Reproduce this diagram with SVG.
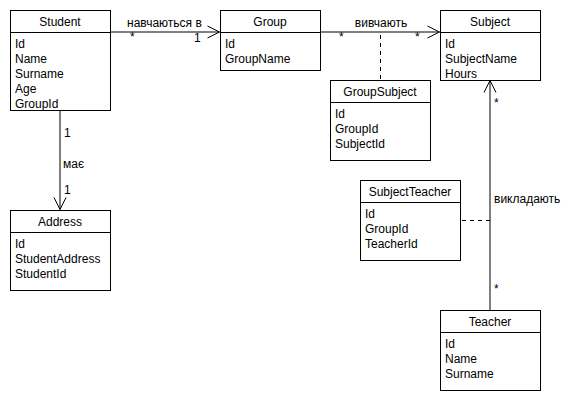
<svg xmlns="http://www.w3.org/2000/svg" width="580" height="400" viewBox="0 0 580 400">
<style>
.box{fill:#fff;stroke:#000;stroke-width:1}
.sep{stroke:#000;stroke-width:1}
text{font-family:"Liberation Sans",Arial,Helvetica,sans-serif;font-size:12px;fill:#000}
.t{text-anchor:middle}
.ln{stroke:#000;stroke-width:1;fill:none}
.dash{stroke:#000;stroke-width:1;fill:none;stroke-dasharray:4 4}
</style>
<defs>
<marker id="open" viewBox="0 0 14 14" refX="13" refY="7" markerWidth="14" markerHeight="14" markerUnits="userSpaceOnUse" orient="auto">
<path d="M1,1 L13,7 L1,13" fill="none" stroke="#000" stroke-width="1"/>
</marker>
</defs>
<rect width="580" height="400" fill="#fff"/>
<g id="connectors">
<line class="ln" x1="110" y1="32" x2="219.5" y2="32" marker-end="url(#open)"/>
<text x="127" y="27">навчаються в</text>
<text x="130" y="41">*</text>
<text x="194" y="42">1</text>
<line class="ln" x1="320" y1="32" x2="439.5" y2="32" marker-end="url(#open)"/>
<text x="381" y="27" class="t">вивчають</text>
<text x="339" y="41">*</text>
<text x="415" y="41">*</text>
<line class="dash" x1="380.5" y1="35" x2="380.5" y2="80"/>
<line class="ln" x1="60" y1="110" x2="60" y2="209.5" marker-end="url(#open)"/>
<text x="64" y="137">1</text>
<text x="63" y="168">має</text>
<text x="64" y="194">1</text>
<line class="ln" x1="490" y1="310" x2="490" y2="80.5" marker-end="url(#open)"/>
<text x="494" y="107">*</text>
<text x="494" y="293">*</text>
<text x="494" y="203">викладають</text>
<line class="dash" x1="462" y1="220.5" x2="490" y2="220.5"/>
</g>
<g id="Student">
<rect class="box" x="10.5" y="10.5" width="100" height="100"/>
<line class="sep" x1="10.5" y1="32.5" x2="110.5" y2="32.5"/>
<text x="60" y="26" class="t">Student</text>
<text x="15" y="48">Id</text>
<text x="15" y="63">Name</text>
<text x="15" y="78">Surname</text>
<text x="15" y="93">Age</text>
<text x="15" y="108">GroupId</text>
</g>
<g id="Group">
<rect class="box" x="220.5" y="10.5" width="100" height="60"/>
<line class="sep" x1="220.5" y1="32.5" x2="320.5" y2="32.5"/>
<text x="270" y="26" class="t">Group</text>
<text x="225" y="48">Id</text>
<text x="225" y="63">GroupName</text>
</g>
<g id="Subject">
<rect class="box" x="440.5" y="10.5" width="100" height="70"/>
<line class="sep" x1="440.5" y1="32.5" x2="540.5" y2="32.5"/>
<text x="490" y="26" class="t">Subject</text>
<text x="445" y="48">Id</text>
<text x="445" y="63">SubjectName</text>
<text x="445" y="78">Hours</text>
</g>
<g id="GroupSubject">
<rect class="box" x="330.5" y="80.5" width="100" height="80"/>
<line class="sep" x1="330.5" y1="102.5" x2="430.5" y2="102.5"/>
<text x="380" y="96" class="t">GroupSubject</text>
<text x="335" y="118">Id</text>
<text x="335" y="133">GroupId</text>
<text x="335" y="148">SubjectId</text>
</g>
<g id="Address">
<rect class="box" x="10.5" y="210.5" width="100" height="80"/>
<line class="sep" x1="10.5" y1="232.5" x2="110.5" y2="232.5"/>
<text x="60" y="226" class="t">Address</text>
<text x="15" y="248">Id</text>
<text x="15" y="263">StudentAddress</text>
<text x="15" y="278">StudentId</text>
</g>
<g id="SubjectTeacher">
<rect class="box" x="360.5" y="180.5" width="100" height="80"/>
<line class="sep" x1="360.5" y1="202.5" x2="460.5" y2="202.5"/>
<text x="410" y="196" class="t">SubjectTeacher</text>
<text x="365" y="218">Id</text>
<text x="365" y="233">GroupId</text>
<text x="365" y="248">TeacherId</text>
</g>
<g id="Teacher">
<rect class="box" x="440.5" y="310.5" width="100" height="80"/>
<line class="sep" x1="440.5" y1="332.5" x2="540.5" y2="332.5"/>
<text x="490" y="326" class="t">Teacher</text>
<text x="445" y="348">Id</text>
<text x="445" y="363">Name</text>
<text x="445" y="378">Surname</text>
</g>
</svg>
